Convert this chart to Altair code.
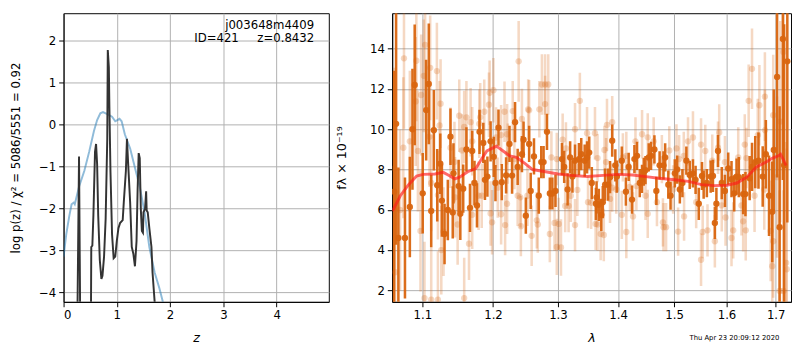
import altair as alt
import pandas as pd

# ---------------- left panel: log p(z) ----------------
z_prior = [0.0, 0.05, 0.11, 0.15, 0.19, 0.21, 0.29, 0.39, 0.48, 0.57, 0.63, 0.69,
           0.74, 0.82, 0.91, 0.97, 1.01, 1.05, 1.09, 1.15, 1.25, 1.34, 1.43, 1.52,
           1.61, 1.71, 1.80, 1.86, 1.95]
lnp_prior = [-3.15, -2.62, -2.16, -1.90, -1.86, -1.90, -1.48, -1.10, -0.65, -0.15,
             0.11, 0.27, 0.30, 0.25, 0.19, 0.08, 0.11, 0.14, 0.08, -0.23, -0.57,
             -1.03, -1.48, -2.09, -2.92, -3.53, -3.91, -4.21, -4.80]

z_pz = [0.22, 0.262, 0.29, 0.31, 0.33, 0.49, 0.515, 0.52, 0.54, 0.56, 0.59, 0.61,
        0.63, 0.65, 0.68, 0.71, 0.73, 0.76, 0.79, 0.82, 0.83, 0.85, 0.86, 0.88,
        0.91, 0.94, 0.97, 1.00, 1.03, 1.06, 1.11, 1.13, 1.17, 1.19, 1.21, 1.25,
        1.28, 1.31, 1.34, 1.37, 1.39, 1.41, 1.43, 1.45, 1.47, 1.49, 1.50, 1.53,
        1.55, 1.56, 1.58, 1.61, 1.65, 1.67, 1.71, 1.75]
lnp_pz = [-7.0, -4.3, -0.76, -4.3, -7.0, -7.0, -4.3, -2.92, -2.89, -2.16, -0.65,
          -0.46, -0.95, -2.16, -3.23, -3.68, -3.61, -3.15, -2.24, -0.34, 1.78,
          1.37, 0.42, -1.10, -2.62, -3.19, -3.15, -2.77, -2.47, -2.35, -2.28,
          -1.86, -1.10, -0.34, -0.87, -1.86, -2.92, -3.08, -3.38, -2.77, -1.56,
          -0.68, -0.80, -2.01, -2.54, -2.58, -2.09, -2.01, -1.59, -2.05, -2.09,
          -2.47, -2.92, -3.53, -4.23, -6.0]

z_ticks = [0, 1, 2, 3, 4]
lnp_ticks = [-4, -3, -2, -1, 0, 1, 2]
root_name = "j003648m4409"
id_line = "ID=421" + "\u00a0" * 4 + " z=0.8432"

# ---------------- right panel: spectrum ----------------
dark_lam = [1.0623, 1.0649, 1.0679, 1.0766, 1.0831, 1.0866, 1.0896, 1.1004, 1.1051,
            1.1087, 1.1120, 1.1156, 1.1203, 1.1245, 1.1267, 1.1304, 1.1350, 1.1387,
            1.1419, 1.1429, 1.1502, 1.1526,
            1.1567, 1.1613, 1.1664, 1.1696, 1.1729, 1.1765, 1.1802, 1.1857, 1.1881,
            1.1917, 1.1964, 1.2011, 1.2036, 1.2081, 1.2130, 1.2195, 1.2246, 1.2285,
            1.2330, 1.2370, 1.2435, 1.2460, 1.2495,
            1.2546, 1.2570, 1.2621, 1.2696, 1.2735, 1.2771, 1.2825, 1.2870, 1.2910,
            1.2960, 1.3064, 1.3100, 1.3155, 1.3196, 1.3234, 1.3276, 1.3340, 1.3378,
            1.3435, 1.3474, 1.3510, 1.3553, 1.3622,
            1.3633, 1.3670, 1.3713, 1.3738, 1.3777, 1.3829, 1.3861, 1.3898, 1.3952,
            1.3978, 1.4064, 1.4135, 1.4183, 1.4242, 1.4284, 1.4330, 1.4378, 1.4419,
            1.4449, 1.4480, 1.4538, 1.4579, 1.4640, 1.4675, 1.4734, 1.4805,
            1.4835, 1.4893, 1.4934, 1.5013, 1.5056, 1.5106, 1.5154, 1.5228, 1.5291,
            1.5352, 1.5402, 1.5463, 1.5524, 1.5556, 1.5617, 1.5691, 1.5735, 1.5772,
            1.5802, 1.5833, 1.5907, 1.5969, 1.6034, 1.6099,
            1.6153, 1.6199, 1.6245, 1.6332, 1.6378, 1.6463, 1.6511, 1.6577, 1.6643,
            1.6730, 1.6795, 1.6861, 1.6928, 1.6960, 1.7029, 1.7082, 1.7151, 1.7177,
            1.7245]
dark_flux = [6.90, 10.27, 4.60, 4.60, 6.14, 10.00, 12.20, 6.82, 10.95,
             12.25, 5.94, 9.95, 7.22, 8.29, 6.46, 4.80, 5.99, 9.63,
             5.87, 7.81, 7.18, 5.80,
             7.05, 9.00, 6.10, 8.92, 7.33, 6.22, 9.87, 9.32, 7.49,
             7.65, 9.40, 8.63, 7.33, 10.08, 7.37, 7.71, 9.27, 7.70,
             10.35, 8.13, 8.76, 9.48, 5.71,
             9.27, 6.94, 8.65, 6.70, 8.37, 8.37, 9.87, 6.81, 6.81,
             6.94, 8.52, 8.13, 7.01, 8.60, 7.65, 8.44, 8.52, 8.76,
             8.44, 8.60, 8.84, 7.33, 6.30,
             6.62, 6.25, 5.75, 6.38, 7.25, 7.25, 7.62, 9.43, 8.21,
             7.65, 8.44, 6.90, 8.13, 6.51, 8.52, 8.68, 7.33, 7.54,
             7.89, 7.97, 8.60, 8.68, 9.00, 6.94, 8.21, 8.21,
             8.60, 7.25, 6.70, 7.81, 8.00, 7.01, 7.33, 8.44, 7.73,
             7.81, 7.49, 6.30, 7.68, 7.25, 7.33, 7.65, 7.68, 5.35,
             6.30, 8.92, 7.33, 6.94, 8.05, 7.52,
             6.82, 7.65, 7.62, 6.78, 6.78, 7.57, 8.13, 8.37, 8.44,
             7.65, 8.76, 6.70, 5.90, 8.97, 12.60, 5.14, 14.48, 8.21,
             13.37]
dark_err = [6.0, 6.0, 3.5, 3.0, 2.5, 3.0, 3.0, 2.0, 2.5,
            3.0, 1.8, 2.0, 1.8, 1.5, 1.8, 1.5, 1.5, 1.4,
            1.3, 1.5, 1.3, 1.3,
            1.2, 1.1, 1.2, 1.0, 1.1, 1.1, 1.1, 1.0, 1.0,
            1.0, 1.0, 1.0, 0.9, 0.9, 0.9, 0.9, 0.9, 0.9,
            1.0, 0.9, 0.9, 0.9, 0.9,
            0.9, 0.9, 0.9, 0.9, 0.8, 0.8, 0.9, 0.8, 0.8,
            0.8, 0.8, 0.8, 0.8, 0.8, 0.8, 0.8, 0.8, 0.8,
            0.8, 0.8, 0.8, 0.8, 0.8,
            0.8, 0.8, 0.8, 0.8, 0.8, 0.8, 0.8, 0.8, 0.8,
            0.8, 0.7, 0.7, 0.7, 0.7, 0.7, 0.7, 0.7, 0.7,
            0.7, 0.7, 0.7, 0.7, 0.7, 0.7, 0.7, 0.7,
            0.7, 0.7, 0.7, 0.7, 0.7, 0.7, 0.7, 0.7, 0.7,
            0.7, 0.7, 0.8, 0.7, 0.7, 0.7, 0.8, 0.8, 0.8,
            0.8, 0.8, 0.8, 0.8, 0.8, 0.9,
            0.9, 0.9, 1.0, 1.0, 1.1, 1.1, 1.2, 1.3, 1.4,
            1.5, 1.7, 2.0, 2.5, 3.0, 5.0, 6.0, 7.0, 7.0,
            8.0]

light_lam = [1.0753, 1.0636, 1.0918, 1.1018, 1.1037, 1.1106, 1.1198, 1.0983, 1.0909,
             1.1249, 1.1235, 1.1097, 1.1387, 1.0744, 1.0939, 1.1120, 1.1212, 1.1452,
             1.1488, 1.0974, 1.1290, 1.1259, 1.1028, 1.1120, 1.1212, 1.0626, 1.0701,
             1.0831, 1.1511, 1.1443,
             1.1613, 1.1673, 1.1581, 1.1950, 1.1940, 1.2006, 1.1871, 1.1812, 1.1798,
             1.2171, 1.2385, 1.2295, 1.2435, 1.2531, 1.2210, 1.2120, 1.2045, 1.1788,
             1.1834, 1.1696, 1.1964, 1.1986, 1.2120, 1.2180, 1.2210, 1.2370, 1.2410,
             1.2419, 1.1650, 1.1581, 1.1549, 1.1696, 1.2220, 1.2320, 1.2070,
             1.2745, 1.2795, 1.2845, 1.2795, 1.2705, 1.2546, 1.3355, 1.3276, 1.3075,
             1.3128, 1.2895, 1.2981, 1.3474, 1.3606, 1.3207, 1.3314, 1.3490, 1.3542,
             1.3116, 1.3171, 1.2665, 1.2680, 1.2870, 1.2945, 1.3011, 1.2981, 1.3048,
             1.2585, 1.3276, 1.3617, 1.2520,
             1.3809, 1.3898, 1.3793, 1.3766, 1.3649, 1.4302, 1.4419, 1.4520, 1.4627,
             1.4142, 1.4082, 1.4775, 1.3861, 1.3898, 1.4201, 1.4318, 1.4480, 1.4686,
             1.4064, 1.4259, 1.4520, 1.4142, 1.3649, 1.3702, 1.3755, 1.4794, 1.4805,
             1.3968,
             1.4911, 1.5043, 1.5093, 1.5259, 1.5352, 1.5506, 1.5587, 1.5857, 1.5833,
             1.5969, 1.5722, 1.5180, 1.5185, 1.5074, 1.4852, 1.5413, 1.5506, 1.5537,
             1.5630, 1.5772, 1.5907, 1.5981, 1.6099, 1.4982,
             1.6511, 1.6443, 1.6662, 1.6775, 1.6948, 1.7096, 1.7163, 1.6775, 1.6629,
             1.6364, 1.6233, 1.6398, 1.7029, 1.6762, 1.6563, 1.6298, 1.6332, 1.6133,
             1.6384, 1.6895, 1.6948, 1.6928, 1.7233, 1.7220, 1.7082, 1.7163]
light_flux = [13.52, 2.90, 13.40, 12.65, 14.19, 13.05, 12.89, 11.70, 11.38,
              11.27, 10.19, 9.63, 9.08, 9.08, 8.92, 7.33, 6.73, 6.62,
              5.27, 4.95, 4.92, 4.00, 1.62, 1.54, 1.54, 8.05, 5.99,
              9.40, 10.67, 8.37,
              10.59, 10.35, 10.11, 11.81, 11.22, 11.94, 10.87, 10.59, 10.27,
              10.87, 13.37, 10.90, 10.51, 10.98, 9.75, 9.71, 9.59, 6.70,
              6.70, 5.75, 5.82, 5.38, 5.78, 5.24, 6.30, 6.70, 6.62,
              5.19, 4.32, 1.62, 8.95, 9.40, 8.79, 8.52, 7.10,
              12.22, 12.22, 12.22, 11.25, 10.99, 10.94, 11.41, 10.00, 9.48,
              9.05, 8.60, 8.52, 9.80, 9.80, 6.70, 6.99, 6.38, 6.35,
              6.19, 6.19, 5.48, 5.27, 4.80, 5.35, 5.30, 4.16, 4.13,
              4.71, 5.24, 5.30, 6.70,
              10.22, 10.35, 8.37, 8.97, 8.57, 9.40, 9.75, 9.60, 9.40,
              8.68, 8.60, 8.52, 6.54, 7.10, 7.14, 7.18, 6.70, 6.38,
              5.75, 5.67, 5.80, 4.90, 5.27, 4.80, 4.75, 5.38, 5.14,
              7.01,
              8.95, 9.05, 8.52, 9.40, 9.59, 9.24, 8.92, 9.84, 9.08,
              8.37, 8.44, 8.68, 5.67, 4.92, 5.14, 6.38, 3.52, 4.90,
              4.98, 4.44, 6.22, 5.62, 4.60, 7.01,
              13.00, 11.41, 11.19, 11.62, 10.70, 10.38, 13.84, 9.95, 9.71,
              9.24, 8.60, 8.57, 7.62, 7.01, 6.70, 6.22, 5.43, 4.98,
              4.98, 4.95, 4.44, 3.20, 3.05, 3.37, 1.97, 1.97]
light_err = [3.5, 4.0, 3.0, 2.8, 3.0, 2.6, 2.4, 3.0, 3.2,
             2.2, 2.2, 2.5, 2.0, 3.5, 3.0, 2.4, 2.2, 2.0,
             2.0, 3.0, 2.2, 2.2, 2.8, 2.6, 2.4, 5.0, 4.0,
             3.5, 1.8, 2.0,
             1.8, 1.7, 1.8, 1.6, 1.6, 1.6, 1.6, 1.7, 1.7,
             1.5, 2.0, 1.5, 1.5, 1.5, 1.5, 1.5, 1.5, 1.7,
             1.6, 1.7, 1.6, 1.6, 1.5, 1.5, 1.5, 1.5, 1.5,
             1.5, 1.8, 2.0, 1.8, 1.7, 1.5, 1.5, 1.5,
             1.5, 1.5, 1.5, 1.4, 1.4, 1.5, 1.4, 1.3, 1.3,
             1.3, 1.3, 1.3, 1.3, 1.3, 1.3, 1.3, 1.3, 1.3,
             1.3, 1.3, 1.4, 1.4, 1.4, 1.4, 1.3, 1.4, 1.4,
             1.5, 1.3, 1.3, 1.5,
             1.3, 1.3, 1.2, 1.2, 1.2, 1.2, 1.2, 1.2, 1.2,
             1.2, 1.2, 1.2, 1.2, 1.2, 1.2, 1.2, 1.2, 1.2,
             1.2, 1.2, 1.2, 1.3, 1.3, 1.3, 1.3, 1.2, 1.2,
             1.2,
             1.2, 1.2, 1.2, 1.2, 1.3, 1.3, 1.3, 1.4, 1.3,
             1.3, 1.3, 1.2, 1.2, 1.2, 1.2, 1.3, 1.3, 1.3,
             1.3, 1.3, 1.3, 1.4, 1.4, 1.2,
             2.0, 1.8, 2.0, 2.2, 3.0, 5.0, 6.0, 2.0, 1.8,
             1.5, 1.5, 1.5, 4.0, 2.0, 1.8, 1.5, 1.5, 1.4,
             1.5, 2.5, 2.8, 2.8, 6.0, 6.0, 5.0, 5.0]

model_lam = [1.0601, 1.0705, 1.0814, 1.0922, 1.1010, 1.1170, 1.1286, 1.1355, 1.1447,
             1.1516, 1.1632, 1.1747, 1.1816, 1.1909, 1.2051, 1.2150, 1.2250, 1.2351,
             1.2475, 1.2600, 1.2801, 1.3000, 1.3212, 1.3478, 1.3745, 1.4000, 1.4249,
             1.4485, 1.4721, 1.5006, 1.5265, 1.5513, 1.5759, 1.6006, 1.6205, 1.6404,
             1.6602, 1.6801, 1.6934, 1.7060, 1.7102, 1.7171, 1.7218]
model_flux = [5.94, 6.70, 7.25, 7.68, 7.76, 7.78, 7.86, 7.73, 7.54,
              7.62, 7.89, 8.05, 8.44, 8.92, 9.16, 8.92, 8.68, 8.60,
              8.32, 8.00, 7.89, 7.78, 7.71, 7.65, 7.71, 7.76, 7.73,
              7.65, 7.57, 7.49, 7.41, 7.25, 7.20, 7.22, 7.33, 7.62,
              8.13, 8.37, 8.57, 8.68, 8.76, 8.44, 8.20]

lam_ticks = [1.1, 1.2, 1.3, 1.4, 1.5, 1.6, 1.7]
flux_ticks = [2, 4, 6, 8, 10, 12, 14]
stamp = "Thu Apr 23 20:09:12 2020"

# ---------------- styling ----------------
FONT = "DejaVu Sans"
ORANGE = "#d9650f"
H = 296
WL, WR = 272, 409

prior_df = pd.DataFrame({"z": z_prior, "lnp": lnp_prior})
pz_df = pd.DataFrame({"z": z_pz, "lnp": lnp_pz})
dark_df = pd.DataFrame({"lam": dark_lam, "flux": dark_flux, "err": dark_err})
light_df = pd.DataFrame({"lam": light_lam, "flux": light_flux, "err": light_err})
model_df = pd.DataFrame({"lam": model_lam, "flux": model_flux})

zsc = alt.Scale(domain=[0, 4.98], nice=False, zero=False)
lsc = alt.Scale(domain=[-4.23, 2.66], nice=False, zero=False)

zx = alt.X("z:Q", scale=zsc,
           axis=alt.Axis(values=z_ticks, format="d", title="z", titleFontStyle="italic",
                         titlePadding=12))
ly = alt.Y("lnp:Q", scale=lsc,
           axis=alt.Axis(values=lnp_ticks, format="d",
                         title="log p(z) / χ² = 5086/5551 = 0.92",
                         titleFontSize=12, titlePadding=17))

prior_line = alt.Chart(prior_df).mark_line(
    color="#1f77b4", opacity=0.5, strokeWidth=2, clip=True
).encode(x=zx, y=ly, order="z:Q")

pz_line = alt.Chart(pz_df).mark_line(
    color="#333333", strokeWidth=2, clip=True
).encode(x=zx, y=ly, order="z:Q")

ann = alt.Chart(pd.DataFrame({"t": [root_name, id_line], "yy": [12, 26]})).mark_text(
    align="right", font=FONT, fontSize=12, color="black"
).encode(x=alt.value(257), y=alt.Y("yy:Q", scale=None), text="t:N")

left = alt.layer(prior_line, pz_line, ann).properties(width=WL, height=H)

xs = alt.Scale(type="log", domain=[1.0598, 1.7324], nice=False, zero=False)
ys = alt.Scale(domain=[1.43, 15.76], nice=False, zero=False)

rx = alt.X("lam:Q", scale=xs,
           axis=alt.Axis(values=lam_ticks, format=".1f", title="λ",
                         titleFontStyle="italic", titlePadding=12))
ry = alt.Y("flux:Q", scale=ys,
           axis=alt.Axis(values=flux_ticks, format="d", title="fλ × 10⁻¹⁹",
                         titlePadding=22))


def errbars(df, opacity):
    base = alt.Chart(df).transform_calculate(
        lo="datum.flux - datum.err", hi="datum.flux + datum.err"
    )
    bars = base.mark_rule(color=ORANGE, opacity=opacity, strokeWidth=2.6, clip=True).encode(
        x=rx, y=alt.Y("lo:Q", scale=ys), y2="hi:Q"
    )
    pts = base.mark_circle(color=ORANGE, opacity=opacity, size=42, clip=True).encode(
        x=rx, y=ry
    )
    return bars, pts


lb, lp = errbars(light_df, 0.25)
db, dp = errbars(dark_df, 0.95)

model = alt.Chart(model_df).mark_line(
    color="#ff1a1a", opacity=0.65, strokeWidth=3, clip=True
).encode(x=rx, y=ry, order="lam:Q")

stamp_txt = alt.Chart(pd.DataFrame({"t": [stamp]})).mark_text(
    align="right", font=FONT, fontSize=7, color="black"
).encode(x=alt.value(397), y=alt.value(333), text="t:N")

right = alt.layer(lb, lp, db, dp, model, stamp_txt).properties(width=WR, height=H)

chart = alt.hconcat(left, right, spacing=5).properties(
    padding={"left": 0, "top": 0, "right": 0, "bottom": 0}
).configure(font=FONT).configure_axis(
    labelFont=FONT, titleFont=FONT, labelFontSize=12, titleFontSize=13,
    titleFontWeight="normal", labelColor="black", titleColor="black",
    domainColor="black", tickColor="black", tickSize=5, labelPadding=3,
    gridColor="#b0b0b0", gridWidth=1, gridOpacity=1
).configure_view(stroke="black", strokeWidth=1)

chart.save("out.html", embed_options={"renderer": "svg", "actions": False})
